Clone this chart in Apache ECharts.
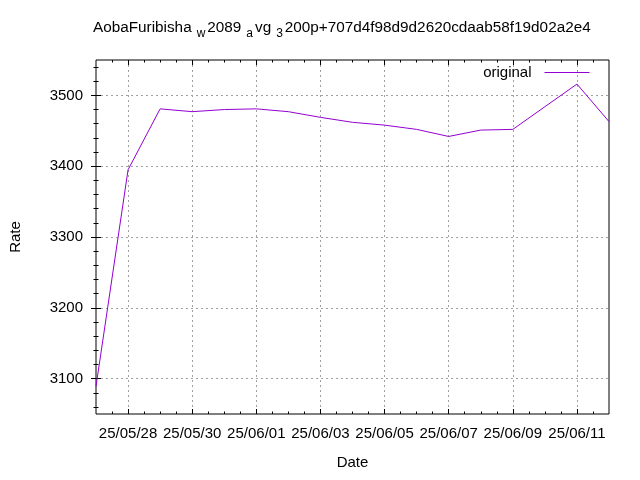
<!DOCTYPE html>
<html>
<head>
<meta charset="utf-8">
<script src="https://cdn.jsdelivr.net/npm/echarts@6/dist/echarts.min.js"></script>
<style>html,body{margin:0;padding:0;background:#fff}#c{width:640px;height:480px}</style>
</head>
<body>
<div id="c"></div>
<script>
const dates = ['25/05/27','25/05/28','25/05/29','25/05/30','25/05/31','25/06/01','25/06/02','25/06/03','25/06/04','25/06/05','25/06/06','25/06/07','25/06/08','25/06/09','25/06/10','25/06/11','25/06/12'];
const rates = [3089, 3395, 3481, 3477, 3480, 3481, 3477, 3469, 3462, 3458, 3452, 3442, 3451, 3452, 3484, 3516, 3463];
const dateTicks = ['25/05/28','25/05/30','25/06/01','25/06/03','25/06/05','25/06/07','25/06/09','25/06/11'];
const rateTicks = [3100, 3200, 3300, 3400, 3500];
const seriesName = 'original';
const titleParts = [['m','AobaFuribisha'],['s','w'],['m','2089'],['s','a'],['m','vg'],['s','3'],['m','200p+707d4f98d9d2620cdaab58f19d02a2e4']];

const FONT = 'Liberation Sans';
const xMin = 0, xMax = dates.length - 1;
const yMin = 3050, yMax = 3550;
const majorX = dateTicks.map(d => dates.indexOf(d));
const minorX = [];
for (let k = 1; k < xMax * 2; k++) minorX.push(k / 2);
const minorY = [];
for (let v = yMin + 10; v < yMax; v += 20) minorY.push(v);

const data = dates.map((d, i) => [i, rates[i]]);
const grey = '#a0a0a0';
const dash = [2, 3];
const gridLine = { show: true, showMinLine: true, showMaxLine: true, lineStyle: { color: grey, type: dash, width: 1 } };

function xAx(pos, major, labels) {
  return {
    type: 'value', position: pos, min: xMin, max: xMax, interval: 0.5,
    axisLine: { show: false },
    axisTick: { show: true, inside: true, length: major ? 5 : 2.5, customValues: major ? majorX : minorX, lineStyle: { color: '#000', width: 1 } },
    axisLabel: labels ? { show: true, customValues: majorX, margin: 12, color: '#000', fontFamily: FONT, fontSize: 15,
      formatter: v => dates[Math.round(v)] } : { show: false },
    splitLine: { show: false }
  };
}
function yAx(pos, major, labels) {
  return {
    type: 'value', position: pos, min: yMin, max: yMax, interval: 50,
    axisLine: { show: false },
    axisTick: { show: true, inside: true, length: major ? 5 : 2.5, customValues: major ? rateTicks : minorY, lineStyle: { color: '#000', width: 1 } },
    axisLabel: labels ? { show: true, customValues: rateTicks, margin: 13, color: '#000', fontFamily: FONT, fontSize: 15,
      formatter: v => String(v) } : { show: false },
    splitLine: { show: false }
  };
}

const xAxes = [
  Object.assign(xAx('bottom', true, true), {
    splitLine: gridLine,
    name: 'Date', nameLocation: 'middle', nameGap: 41, nameTextStyle: { color: '#000', fontFamily: FONT, fontSize: 15 }
  }),
  xAx('bottom', false, false),
  xAx('top', false, false),
  xAx('top', true, false)
];
const yAxes = [
  Object.assign(yAx('left', true, true), {
    splitLine: gridLine,
    name: 'Rate', nameLocation: 'middle', nameGap: 73, nameRotate: 90, nameTextStyle: { color: '#000', fontFamily: FONT, fontSize: 15 }
  }),
  yAx('left', false, false),
  yAx('right', false, false),
  yAx('right', true, false)
];

const titleText = titleParts.map(p => '{' + p[0] + '|' + p[1] + '}').join('');

const chart = echarts.init(document.getElementById('c'), null, { renderer: 'canvas' });
chart.setOption({
  animation: false,
  backgroundColor: '#fff',
  title: {
    text: titleText, left: 93, top: 20, padding: 0,
    textStyle: {
      color: '#000', fontFamily: FONT, fontSize: 15.3, fontWeight: 'normal',
      rich: {
        m: { color: '#000', fontFamily: FONT, fontSize: 15.3, lineHeight: 20, verticalAlign: 'top' },
        s: { color: '#000', fontFamily: FONT, fontSize: 12, lineHeight: 14, verticalAlign: 'bottom', padding: [0, 2, 0, 5] }
      }
    }
  },
  legend: {
    right: 50, top: 65, align: 'right', itemWidth: 45, itemHeight: 16, padding: 0,
    itemStyle: { opacity: 0 },
    lineStyle: { color: '#9400d3', width: 1 },
    textStyle: { color: '#000', fontFamily: FONT, fontSize: 15, padding: [0, 8, 0, 0] },
    data: [seriesName]
  },
  grid: { left: 95, right: 31, top: 60, bottom: 66, show: true, borderColor: '#000', borderWidth: 1, backgroundColor: 'transparent' },
  xAxis: xAxes,
  yAxis: yAxes,
  series: [{
    name: seriesName, type: 'line', data: data, xAxisIndex: 0, yAxisIndex: 0,
    symbol: 'none', lineStyle: { color: '#9400d3', width: 1 }, itemStyle: { color: '#9400d3' }
  }]
});
</script>
</body>
</html>
